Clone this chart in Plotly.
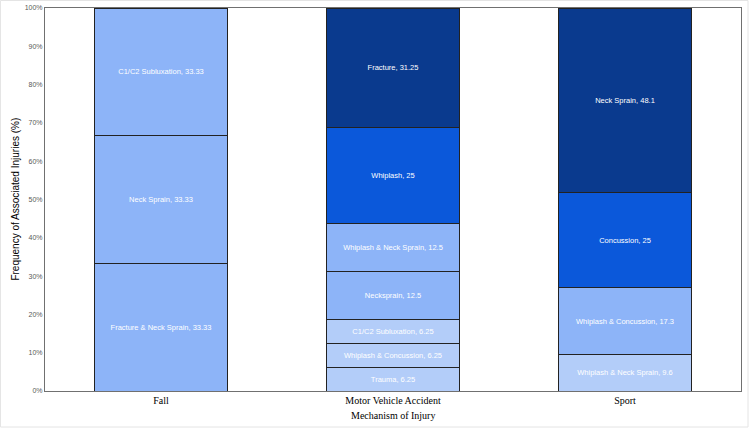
import plotly.graph_objects as go

categories = ["Fall", "Motor Vehicle Accident", "Sport"]

# segments listed bottom -> top for each category
fall_labels = ["Fracture & Neck Sprain", "Neck Sprain", "C1/C2 Subluxation"]
fall_values = [33.33, 33.33, 33.33]
fall_shades = ["light", "light", "light"]

mva_labels = ["Trauma", "Whiplash & Concussion", "C1/C2 Subluxation", "Necksprain",
              "Whiplash & Neck Sprain", "Whiplash", "Fracture"]
mva_values = [6.25, 6.25, 6.25, 12.5, 12.5, 25, 31.25]
mva_shades = ["pale", "pale", "pale", "light", "light", "medium", "dark"]

sport_labels = ["Whiplash & Neck Sprain", "Whiplash & Concussion", "Concussion", "Neck Sprain"]
sport_values = [9.6, 17.3, 25, 48.1]
sport_shades = ["pale", "light", "medium", "dark"]

y_ticks = [0, 10, 20, 30, 40, 50, 60, 70, 80, 90, 100]
y_tick_text = [f"{t}%" for t in y_ticks]

palette = {"pale": "#B3CDF9", "light": "#8DB4F8", "medium": "#0B58DA", "dark": "#0A3A8E"}

fig = go.Figure()
groups = [(categories[0], fall_labels, fall_values, fall_shades),
          (categories[1], mva_labels, mva_values, mva_shades),
          (categories[2], sport_labels, sport_values, sport_shades)]
for cat, labels, values, shades in groups:
    for lab, val, sh in zip(labels, values, shades):
        fig.add_trace(go.Bar(
            x=[cat], y=[val],
            text=[f"{lab}, {val:g}"],
            textposition="inside", insidetextanchor="middle",
            textangle=0,
            textfont=dict(family="Liberation Sans, Arial", size=7.5, color="white"),
            marker=dict(color=palette[sh], line=dict(color="#222222", width=1)),
            showlegend=False,
        ))

fig.update_layout(
    barmode="stack",
    bargap=0.43,
    width=750, height=428,
    margin=dict(l=45, r=9, t=8, b=37),
    plot_bgcolor="white", paper_bgcolor="white",
    uniformtext=dict(minsize=7, mode="show"),
    xaxis=dict(
        automargin=False,
        showline=True, linecolor="#707070", linewidth=1, mirror=True,
        tickfont=dict(family="Liberation Serif, Times New Roman", size=10, color="black"),
        ticks="", showgrid=False,
    ),
    yaxis=dict(
        automargin=False,
        range=[0, 100], tickmode="array", tickvals=y_ticks, ticktext=y_tick_text,
        showline=True, linecolor="#707070", linewidth=1, mirror=True,
        tickfont=dict(family="Liberation Sans, Arial", size=7, color="#595959"),
        ticks="", showgrid=False, zeroline=False,
    ),
    annotations=[
        dict(text="Mechanism of Injury", xref="paper", yref="paper", x=0.5, y=-0.045,
             xanchor="center", yanchor="top", showarrow=False,
             font=dict(family="Liberation Serif, Times New Roman", size=10, color="black")),
        dict(text="Frequency of Associated Injuries (%)", xref="paper", yref="paper",
             x=-0.043, y=0.5, xanchor="center", yanchor="middle", textangle=-90, showarrow=False,
             font=dict(family="Liberation Sans, Arial", size=10, color="black")),
    ],
    shapes=[dict(type="rect", xref="paper", yref="paper",
                 x0=-0.0640, x1=1.0101, y0=-0.094, y1=1.0196,
                 line=dict(color="#E4E4E4", width=1), fillcolor="rgba(0,0,0,0)", layer="below")],
)

fig.write_html("out.html", config={"displayModeBar": False},
               post_script="document.body.style.margin='0px';")
